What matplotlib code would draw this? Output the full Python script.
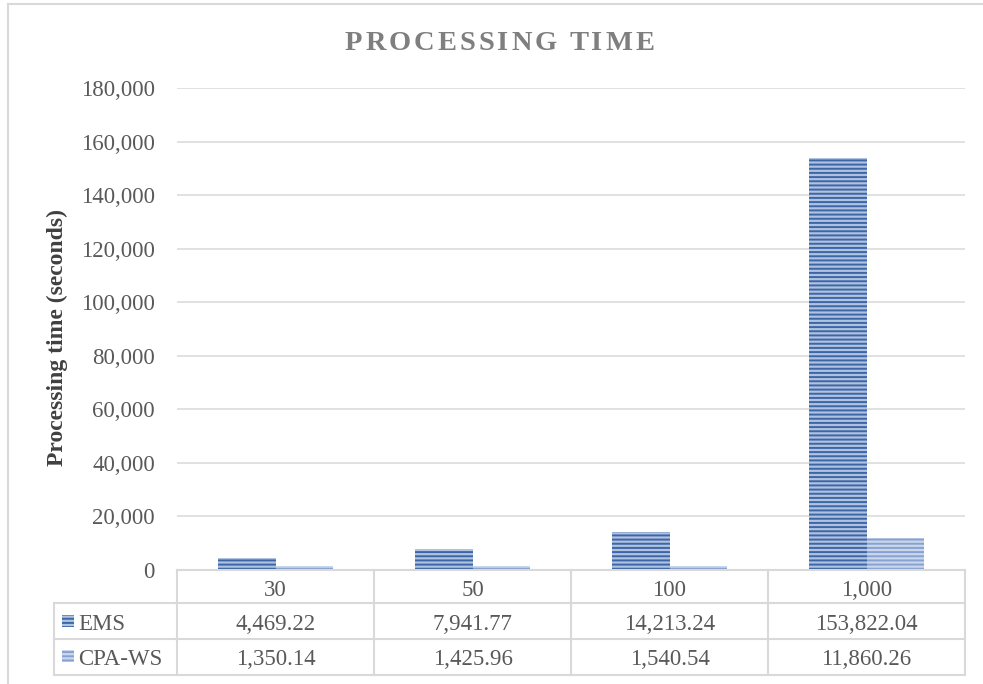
import matplotlib
matplotlib.use("Agg")
import matplotlib.pyplot as plt
from matplotlib.patches import Rectangle
from matplotlib.lines import Line2D
from matplotlib.ticker import FuncFormatter, MultipleLocator

# ---- data ----
categories = ["30", "50", "100", "1,000"]
series_names = ["EMS", "CPA-WS"]
ems_times = [4469.22, 7941.77, 14213.24, 153822.04]
cpa_ws_times = [1350.14, 1425.96, 1540.54, 11860.26]
title_text = "PROCESSING TIME"
ylabel_text = "Processing time (seconds)"

plt.rcParams["font.family"] = ["Liberation Serif", "DejaVu Serif"]
plt.rcParams["hatch.linewidth"] = 1.4

W, H = 983, 684
fig = plt.figure(figsize=(W / 100, H / 100), dpi=100)


def fx(px):
    return px / W


def fy(py):
    return 1 - py / H


GRID = "#D9D9D9"
TXT = "#595959"
styles = [
    dict(face="#AFC2E0", hatch_col="#3D66A6"),   # EMS
    dict(face="#CAD6EB", hatch_col="#87A2D0"),   # CPA-WS
]

# plot area
x0, x1, ytop, ybot = 177, 965, 88, 570
ax = fig.add_axes([fx(x0), fy(ybot), fx(x1) - fx(x0), fy(ytop) - fy(ybot)])
ax.set_xlim(-0.5, len(categories) - 0.5)
ax.set_ylim(0, 180000)
ax.yaxis.set_major_locator(MultipleLocator(20000))
ax.yaxis.set_major_formatter(FuncFormatter(lambda v, p: f"{v:,.0f}"))
ax.tick_params(axis="y", length=0, pad=16, labelsize=16.5, labelcolor=TXT)
ax.set_xticks([])
for s in ax.spines.values():
    s.set_visible(False)
ax.grid(axis="y", color=GRID, linewidth=1.1)
ax.set_axisbelow(True)

bw = 0.29
xs = list(range(len(categories)))
for k, vals in enumerate([ems_times, cpa_ws_times]):
    off = (k - 0.5) * bw
    pos = [x + off for x in xs]
    ax.bar(pos, vals, width=bw, color=styles[k]["face"], linewidth=0, zorder=2)
    ax.bar(pos, vals, width=bw, facecolor="none", edgecolor=styles[k]["hatch_col"],
           linewidth=0, hatch="----", zorder=3)

# y-axis title
fig.text(fx(57), fy(337.5), ylabel_text, rotation=90, ha="center", va="center",
         fontsize=17, fontweight="bold", color="#404040")

# title with letter spacing
renderer = fig.canvas.get_renderer()
tsize = 20.5
track = 3.0
words = title_text.split(" ")


def text_width(s):
    t = fig.text(0, 0, s, fontsize=tsize, fontweight="bold")
    w = t.get_window_extent(renderer).width
    t.remove()
    return w


space_w = text_width("T T") - text_width("TT")
layout = []
cur = 0.0
for wi, word in enumerate(words):
    for ci in range(len(word)):
        prefix_w = text_width(word[:ci]) if ci else 0.0
        layout.append((word[ci], cur + prefix_w + track * ci))
    cur += text_width(word) + track * (len(word) - 1)
    if wi < len(words) - 1:
        cur += space_w + track * 2
total = cur
start = 499.5 - total / 2
for ch, off in layout:
    fig.text(fx(start + off), fy(50.5), ch, fontsize=tsize, fontweight="bold",
             color="#7F7F7F", ha="left", va="baseline")

# data table
col_edges = [177, 374, 571, 768, 965]
row_lines = [570, 603, 639, 675]
lk = dict(color=GRID, linewidth=1.5, transform=fig.transFigure)
fig.add_artist(Line2D([fx(177), fx(965)], [fy(570), fy(570)], **lk))
for yl in row_lines[1:]:
    fig.add_artist(Line2D([fx(54), fx(965)], [fy(yl), fy(yl)], **lk))
for xe in col_edges:
    fig.add_artist(Line2D([fx(xe), fx(xe)], [fy(570), fy(675)], **lk))
fig.add_artist(Line2D([fx(54), fx(54)], [fy(603), fy(675)], **lk))

fs_tab = 16.5
for ci, cat in enumerate(categories):
    cx = (col_edges[ci] + col_edges[ci + 1]) / 2
    fig.text(fx(cx), fy(596), cat, ha="center", va="baseline", fontsize=fs_tab, color=TXT)
    fig.text(fx(cx), fy(630), f"{ems_times[ci]:,.2f}", ha="center", va="baseline",
             fontsize=fs_tab, color=TXT)
    fig.text(fx(cx), fy(665), f"{cpa_ws_times[ci]:,.2f}", ha="center", va="baseline",
             fontsize=fs_tab, color=TXT)

for k, (name, base) in enumerate(zip(series_names, [630, 665])):
    ky = base - 15
    for hatch, fc, ec in [(None, styles[k]["face"], "none"), ("----", "none", styles[k]["hatch_col"])]:
        fig.add_artist(Rectangle((fx(62), fy(ky + 12)), fx(12), fy(ky) - fy(ky + 12),
                                 transform=fig.transFigure, facecolor=fc, edgecolor=ec,
                                 linewidth=0, hatch=hatch))
    fig.text(fx(78), fy(base), name, ha="left", va="baseline", fontsize=fs_tab, color=TXT)

# chart frame
fig.add_artist(Line2D([fx(8), fx(982)], [fy(4), fy(4)], **lk))
fig.add_artist(Line2D([fx(8), fx(8)], [fy(4), fy(684)], **lk))

fig.savefig("out.png", dpi=100)
